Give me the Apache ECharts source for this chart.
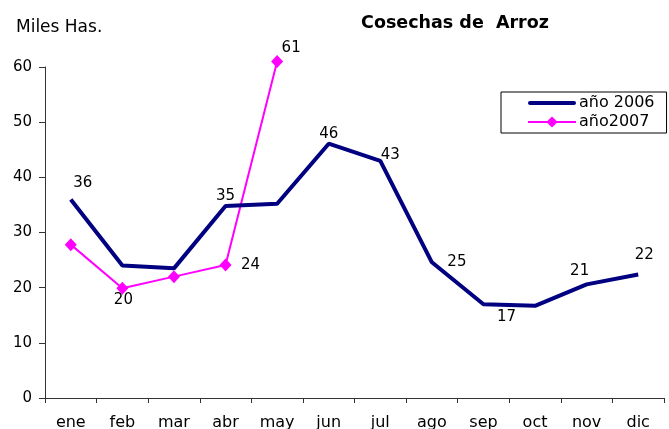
<!DOCTYPE html>
<html>
<head>
<meta charset="utf-8">
<script src="https://cdn.jsdelivr.net/npm/echarts@6/dist/echarts.min.js"></script>
<style>
  html, body { margin: 0; padding: 0; background: #fff; }
  #main { width: 669px; height: 429px; }
</style>
</head>
<body>
<div id="main"></div>
<script>
// datos
var meses = ['ene', 'feb', 'mar', 'abr', 'may', 'jun', 'jul', 'ago', 'sep', 'oct', 'nov', 'dic'];
var valores2006 = [36.0, 24.0, 23.5, 34.8, 35.2, 46.1, 43.0, 24.6, 17.0, 16.7, 20.6, 22.4];
var valores2007 = [27.8, 19.9, 22.0, 24.1, 61.0];

// etiquetas visibles: indice -> desplazamiento del centro del texto respecto al punto
var etiq2006 = {
    0: [12, -16],
    3: [0, -10],
    5: [0, -10],
    6: [10, -6],
    7: [25, 0],
    8: [23, 13],
    10: [-7, -13],
    11: [6, -19]
};
var etiq2007 = {
    1: [1, 12],
    3: [25, 0],
    4: [14, -13]
};

function conEtiquetas(vals, mapa) {
    return vals.map(function (v, i) {
        var off = mapa[i];
        return {
            value: v,
            label: off ? { show: true, position: 'inside', offset: off } : { show: false }
        };
    });
}

var fuente = 'DejaVu Sans';
var etiqueta = {
    fontSize: 15,
    color: '#000',
    fontFamily: fuente,
    align: 'center',
    verticalAlign: 'middle',
    formatter: function (p) { return Math.round(p.value); }
};

var myChart = echarts.init(document.getElementById('main'));
var option = {
    backgroundColor: '#fff',
    animation: false,
    textStyle: { fontFamily: fuente },
    title: [{
        text: 'Cosechas de  Arroz',
        left: 455,
        top: 14,
        padding: 0,
        textAlign: 'center',
        textStyle: { fontSize: 17.5, fontWeight: 'bold', color: '#000', fontFamily: fuente }
    }, {
        text: 'Miles Has.',
        left: 16,
        top: 19,
        padding: 0,
        textStyle: { fontSize: 17, fontWeight: 'normal', color: '#000', fontFamily: fuente }
    }],
    legend: {
        orient: 'vertical',
        left: 501,
        top: 92,
        padding: [3, 12, 3, 26],
        itemGap: 3,
        itemWidth: 48,
        itemHeight: 14,
        borderColor: '#000',
        borderWidth: 1,
        borderRadius: 0,
        textStyle: { fontSize: 16, color: '#000', fontFamily: fuente, padding: [0, 0, 0, -2] },
        data: [
            {
                name: 'año 2006',
                icon: 'path://M2,0L46,0A2,2,0,0,1,46,4L2,4A2,2,0,0,1,2,0Z',
                itemStyle: { color: '#000080' }
            },
            { name: 'año2007' }
        ]
    },
    grid: {
        left: 45,
        right: 5,
        top: 67,
        bottom: 31,
        outerBoundsMode: 'none'
    },
    xAxis: {
        type: 'category',
        data: meses,
        boundaryGap: true,
        axisLine: { lineStyle: { color: '#333', width: 1 } },
        axisTick: { show: true, length: 5, lineStyle: { color: '#333' } },
        axisLabel: { fontSize: 16, color: '#000', margin: 17, interval: 0 }
    },
    yAxis: {
        type: 'value',
        min: 0,
        max: 60,
        interval: 10,
        axisLine: { show: true, lineStyle: { color: '#333', width: 1 } },
        axisTick: { show: true, length: 6, lineStyle: { color: '#333' } },
        axisLabel: { fontSize: 15, color: '#000', margin: 13 },
        splitLine: { show: false }
    },
    series: [{
        name: 'año 2006',
        type: 'line',
        data: conEtiquetas(valores2006, etiq2006),
        symbol: 'circle',
        symbolSize: 1,
        showSymbol: true,
        lineStyle: { color: '#000080', width: 4 },
        itemStyle: { color: 'rgba(0,0,128,0)' },
        label: etiqueta,
        clip: false,
        z: 3
    }, {
        name: 'año2007',
        type: 'line',
        data: conEtiquetas(valores2007, etiq2007),
        symbol: 'diamond',
        symbolSize: [12, 13],
        showSymbol: true,
        lineStyle: { color: '#ff00ff', width: 2 },
        itemStyle: { color: '#ff00ff' },
        label: etiqueta,
        clip: false,
        z: 2
    }]
};
myChart.setOption(option);
</script>
</body>
</html>
